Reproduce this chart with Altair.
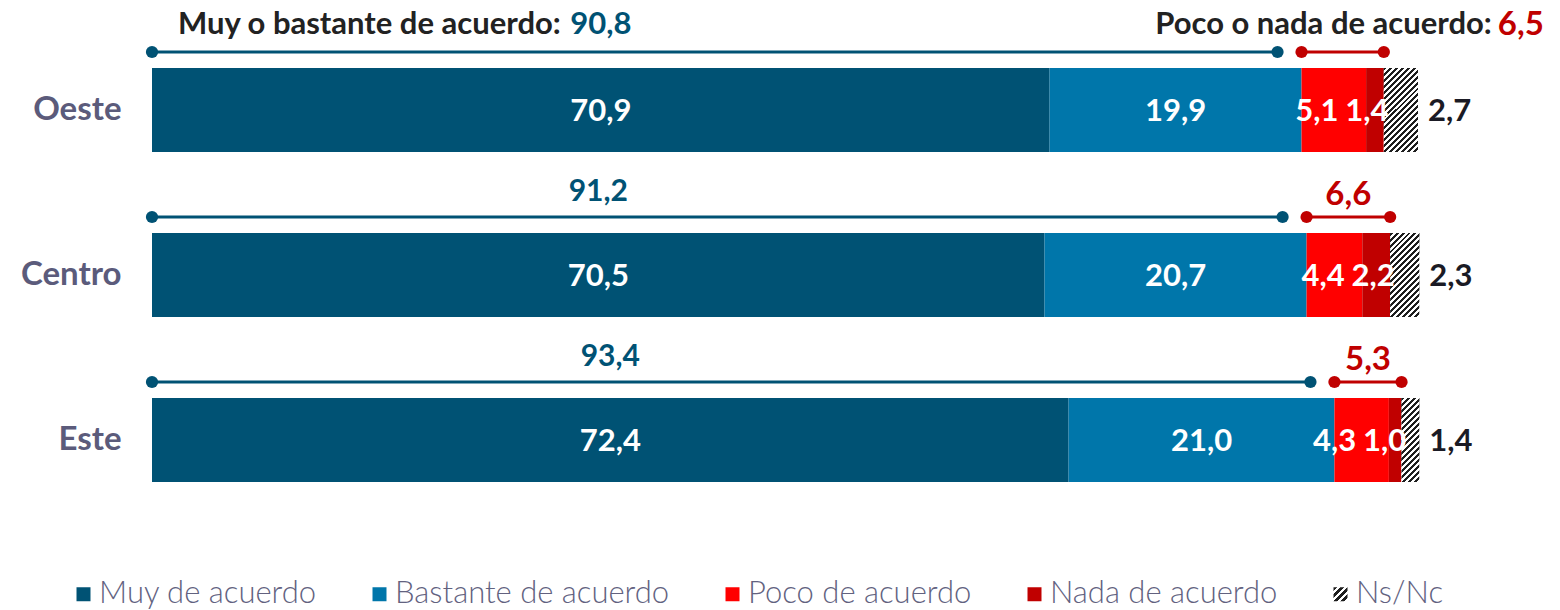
import altair as alt
import pandas as pd

# ---------------- data ----------------
regions = ["Oeste", "Centro", "Este"]
categories = ["Muy de acuerdo", "Bastante de acuerdo", "Poco de acuerdo", "Nada de acuerdo", "Ns/Nc"]
muy = [70.9, 70.5, 72.4]
bastante = [19.9, 20.7, 21.0]
poco = [5.1, 4.4, 4.3]
nada = [1.4, 2.2, 1.0]
nsnc = [2.7, 2.3, 1.4]
agree_total = [90.8, 91.2, 93.4]
disagree_total = [6.5, 6.6, 5.3]
agree_title = "Muy o bastante de acuerdo:"
disagree_title = "Poco o nada de acuerdo:"

# ---------------- style ----------------
BLUE_DARK = "#005274"
BLUE = "#0076aa"
RED = "#ff0000"
RED_DARK = "#c00000"
HATCH = "#1e1e1e"
FONT = "Lato"
PLOT_W = 1266
PLOT_H = 495
BAR_H = 84
PERIOD = 6.0
PX = PLOT_W / 100.0          # pixels per percentage point
SEG_FS = 31
LBL_W = 40                   # approx. width of a small "x,y" label in px


def fmt(v):
    return f"{v:.1f}".replace(".", ",")


def stripes(n):
    stops = []
    for k in range(n):
        a = k / n
        b = (k + 0.5) / n
        c = (k + 1) / n
        stops += [
            {"offset": a, "color": HATCH},
            {"offset": b, "color": HATCH},
            {"offset": b, "color": "#ffffff"},
            {"offset": c, "color": "#ffffff"},
        ]
    return stops


def hatch_gradient(w, h):
    k = (w + h) / (w * w + h * h)
    n = max(2, round((w + h) / PERIOD))
    return {"gradient": "linear", "x1": 0, "y1": 0, "x2": w * k, "y2": h * k, "stops": stripes(n)}


leg_stops = stripes(4)
leg_expr = "{gradient: 'linear', x1: 0, y1: 0, x2: 1, y2: 1, stops: [" + ", ".join(
    "{offset: %g, color: '%s'}" % (s["offset"], s["color"]) for s in leg_stops) + "]}"

rows = []
for i, r in enumerate(regions):
    vals = [muy[i], bastante[i], poco[i], nada[i], nsnc[i]]
    start = 0.0
    seg = []
    for k, (c, v) in enumerate(zip(categories, vals)):
        seg.append(dict(region=r, cat=c, start=start, end=start + v, mid=start + v / 2,
                        label=fmt(v), order=k))
        start += v
    # small red labels: keep "Nada" label flush with its segment end and
    # push the "Poco" label left so the two do not collide
    nada_seg = seg[3]
    nada_right = nada_seg["end"] + 3 / PX
    nada_seg["lx"] = nada_right - (LBL_W / 2) / PX
    poco_seg = seg[2]
    poco_seg["lx"] = min(poco_seg["mid"], nada_right - (LBL_W + 10 + LBL_W / 2) / PX)
    for s in seg[:2]:
        s["lx"] = s["mid"]
    seg[4]["lx"] = seg[4]["end"]
    rows += seg
df = pd.DataFrame(rows)

summ = pd.DataFrame(dict(
    region=regions,
    zero=[0.0] * 3,
    agree=agree_total,
    dis_end=[a + d for a, d in zip(agree_total, disagree_total)],
    dis_mid=[a + d / 2 for a, d in zip(agree_total, disagree_total)],
    muy_mid=[m / 2 for m in muy],
    agree_lbl=[fmt(v) for v in agree_total],
    dis_lbl=[fmt(v) for v in disagree_total],
    idx=[0, 1, 2],
))

xs = alt.Scale(domain=[0, 100], nice=False, zero=False)
ysc = alt.Scale(domain=regions, paddingInner=0.491, paddingOuter=0.2455)
Y = alt.Y("region:N", scale=ysc, sort=regions,
          axis=alt.Axis(title=None, ticks=False, domain=False, labelPadding=31,
                        labelFontSize=33, labelFont=FONT, labelFontWeight="bold",
                        labelColor="#5b5b7b"))

base = alt.Chart(df)

bars = base.mark_bar().encode(
    x=alt.X("start:Q", scale=xs, axis=None),
    x2="end:Q",
    y=Y,
    color=alt.Color("cat:N",
                    scale=alt.Scale(domain=categories,
                                    range=[BLUE_DARK, BLUE, RED, RED_DARK, {"expr": leg_expr}]),
                    legend=alt.Legend(orient="none", legendX=-84, legendY=551,
                                      direction="horizontal", title=None,
                                      symbolType="square", symbolSize=196,
                                      symbolStrokeWidth=0, symbolOpacity=1,
                                      labelFontSize=31, labelFont=FONT, labelFontWeight=300,
                                      labelColor="#62627f", labelOffset=0, labelLimit=0,
                                      columnPadding=47, padding=0)),
)

hatch_layers = []
for i, r in enumerate(regions):
    w = nsnc[i] * PX
    g = hatch_gradient(w, BAR_H)
    hatch_layers.append(
        base.transform_filter(
            f"datum.region == '{r}' && datum.cat == 'Ns/Nc'"
        ).mark_bar(fill=g).encode(x=alt.X("start:Q", scale=xs), x2="end:Q", y=Y)
    )

seg_labels = base.transform_filter("datum.cat != 'Ns/Nc'").mark_text(
    color="white", font=FONT, fontWeight="bold", fontSize=SEG_FS, align="center", baseline="middle", dy=2
).encode(x=alt.X("lx:Q", scale=xs), y=Y, text="label:N")

ns_labels = base.transform_filter("datum.cat == 'Ns/Nc'").mark_text(
    color="#1a1a24", font=FONT, fontWeight="bold", fontSize=SEG_FS, align="left", baseline="middle", dx=10, dy=2
).encode(x=alt.X("end:Q", scale=xs), y=Y, text="label:N")

sb = alt.Chart(summ)
LINE_OFF = -58

blue_rule = sb.mark_rule(color=BLUE_DARK, strokeWidth=3, yOffset=LINE_OFF, x2Offset=-24).encode(
    x=alt.X("zero:Q", scale=xs), x2="agree:Q", y=Y)
blue_dot0 = sb.mark_circle(color=BLUE_DARK, size=150, opacity=1, yOffset=LINE_OFF).encode(
    x=alt.X("zero:Q", scale=xs), y=Y)
blue_dot1 = sb.mark_circle(color=BLUE_DARK, size=150, opacity=1, yOffset=LINE_OFF, xOffset=-24).encode(
    x=alt.X("agree:Q", scale=xs), y=Y)

red_rule = sb.mark_rule(color=RED_DARK, strokeWidth=3, yOffset=LINE_OFF).encode(
    x=alt.X("agree:Q", scale=xs), x2="dis_end:Q", y=Y)
red_dot0 = sb.mark_circle(color=RED_DARK, size=150, opacity=1, yOffset=LINE_OFF).encode(
    x=alt.X("agree:Q", scale=xs), y=Y)
red_dot1 = sb.mark_circle(color=RED_DARK, size=150, opacity=1, yOffset=LINE_OFF).encode(
    x=alt.X("dis_end:Q", scale=xs), y=Y)

TITLE_FS = 31
blue_num_first = sb.transform_filter("datum.idx == 0").mark_text(
    color=BLUE_DARK, font=FONT, fontWeight="bold", fontSize=TITLE_FS, align="center",
    baseline="alphabetic", dy=-76).encode(x=alt.X("muy_mid:Q", scale=xs), y=Y, text="agree_lbl:N")
blue_title = sb.transform_filter("datum.idx == 0").mark_text(
    color="#222222", font=FONT, fontWeight="bold", fontSize=TITLE_FS, align="right",
    baseline="alphabetic", dy=-76, dx=-40).encode(
    x=alt.X("muy_mid:Q", scale=xs), y=Y, text=alt.value(agree_title))
blue_num_rest = sb.transform_filter("datum.idx > 0").mark_text(
    color=BLUE_DARK, font=FONT, fontWeight="bold", fontSize=30, align="center",
    baseline="alphabetic", dy=-74).encode(x=alt.X("muy_mid:Q", scale=xs), y=Y, text="agree_lbl:N")

red_num_first = sb.transform_filter("datum.idx == 0").mark_text(
    color=RED_DARK, font=FONT, fontWeight="bold", fontSize=33, align="right",
    baseline="alphabetic", dy=-75, dx=160).encode(
    x=alt.X("dis_end:Q", scale=xs), y=Y, text="dis_lbl:N")
red_title = sb.transform_filter("datum.idx == 0").mark_text(
    color="#222222", font=FONT, fontWeight="bold", fontSize=TITLE_FS, align="right",
    baseline="alphabetic", dy=-76, dx=108).encode(
    x=alt.X("dis_end:Q", scale=xs), y=Y, text=alt.value(disagree_title))
red_num_rest = sb.transform_filter("datum.idx > 0").mark_text(
    color=RED_DARK, font=FONT, fontWeight="bold", fontSize=33, align="center",
    baseline="alphabetic", dy=-70).encode(x=alt.X("dis_mid:Q", scale=xs), y=Y, text="dis_lbl:N")

chart = alt.layer(
    bars, *hatch_layers, seg_labels, ns_labels,
    blue_rule, blue_dot0, blue_dot1, red_rule, red_dot0, red_dot1,
    blue_title, blue_num_first, blue_num_rest, red_title, red_num_first, red_num_rest,
).properties(
    width=PLOT_W, height=PLOT_H,
    background="white",
    autosize=alt.AutoSizeParams(type="none"),
    padding={"left": 144, "top": 19.5, "right": 134, "bottom": 86},
).configure_view(stroke=None)

chart.save("out.html", embed_options={"renderer": "svg", "actions": False})
